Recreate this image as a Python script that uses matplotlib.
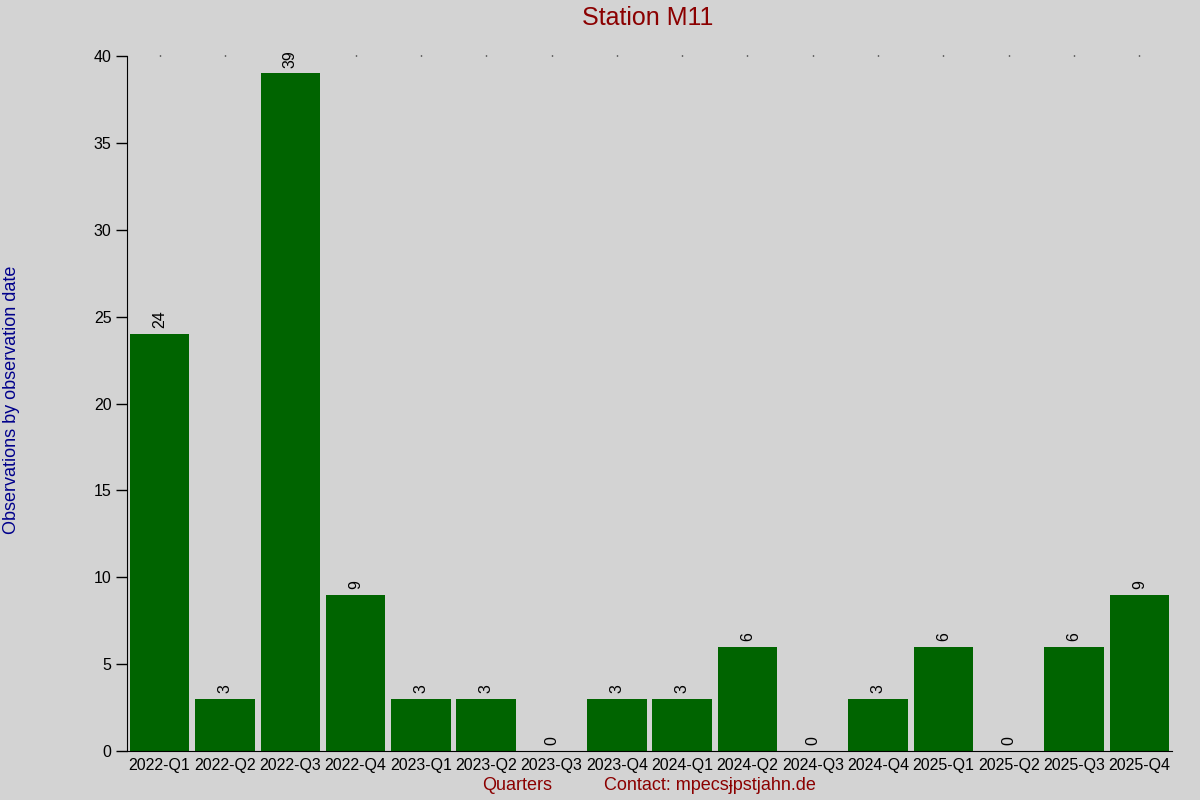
import numpy as np
import matplotlib.pyplot as plt

plt.rcParams['font.family'] = ['Liberation Sans', 'DejaVu Sans']

# quarters and observation counts
quarters = ['2022-Q1', '2022-Q2', '2022-Q3', '2022-Q4',
            '2023-Q1', '2023-Q2', '2023-Q3', '2023-Q4',
            '2024-Q1', '2024-Q2', '2024-Q3', '2024-Q4',
            '2025-Q1', '2025-Q2', '2025-Q3', '2025-Q4']
counts = [24, 3, 39, 9, 3, 3, 0, 3, 3, 6, 0, 3, 6, 0, 6, 9]

bg = '#d3d3d3'
fig = plt.figure(figsize=(12, 8), dpi=100, facecolor=bg)
ax = fig.add_axes([0.1058, 0.06125, 0.8709, 0.86875])
ax.set_facecolor(bg)

x = np.arange(len(quarters))
ax.bar(x, counts, width=0.91, color='#006400')

for xi, c in zip(x, counts):
    ax.annotate(str(c), (xi, c), xytext=(0, 4), textcoords='offset points',
                rotation=90, ha='center', va='bottom', fontsize=11.5, color='black')

ax.set_xlim(-0.5, len(quarters) - 0.5)
ax.set_ylim(0, 40)
ax.set_yticks(np.arange(0, 41, 5))
ax.set_xticks(x)
ax.set_xticklabels(quarters)
ax.tick_params(axis='y', length=8, width=1, labelsize=11.5, pad=3)
ax.tick_params(axis='x', bottom=False, top=True, length=1, width=1, labelsize=11.5, pad=4)

ax.spines['top'].set_visible(False)
ax.spines['right'].set_visible(False)

fig.text(0.54, 0.977, 'Station M11', color='#8b0000', fontsize=18, ha='center', va='center')
fig.text(0.01, 0.5, 'Observations by observation date', color='#00008b', fontsize=13,
         rotation=90, ha='center', va='center')
fig.text(0.431, 0.0175, 'Quarters', color='#8b0000', fontsize=13, ha='center', va='center')
fig.text(0.592, 0.0175, 'Contact: mpecsɉpstjahn.de', color='#8b0000', fontsize=13,
         ha='center', va='center')

fig.savefig('out.png', dpi=100, facecolor=bg)
